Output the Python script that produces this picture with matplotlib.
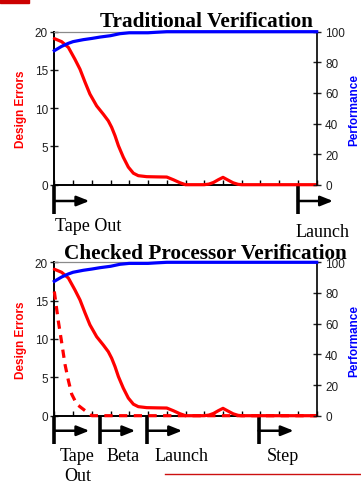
import matplotlib
matplotlib.use("Agg")
import matplotlib.pyplot as plt
from matplotlib.transforms import blended_transform_factory
from matplotlib.patches import Rectangle
from matplotlib.lines import Line2D

# ---- data ----
weeks = [0, 0.39, 0.75, 1.1, 1.37, 1.64, 1.9, 2.26, 2.62, 2.88, 3.06, 3.24, 3.42, 3.68,
         3.95, 4.22, 4.48, 4.93, 5.5, 6.0, 6.35, 6.7, 7.0, 8.0, 8.25, 8.5, 8.75, 9.0,
         9.27, 9.54, 9.8, 10, 11, 12, 13, 14]
design_errors = [19.1, 18.7, 17.95, 16.4, 15.1, 13.4, 11.85, 10.3, 9.2, 8.35, 7.5, 6.4, 5.1, 3.6,
                 2.3, 1.5, 1.18, 1.05, 1.02, 1.0, 0.65, 0.26, 0.0, 0.0, 0.08, 0.3, 0.65, 0.96,
                 0.6, 0.25, 0.05, 0.0, 0.0, 0.0, 0.0, 0.0]

perf_weeks = [0, 0.39, 0.75, 1.0, 1.55, 2.0, 2.44, 3.0, 3.5, 4.0, 4.5, 5.0, 5.4, 6, 7, 8, 9, 10, 11, 12, 13, 14]
performance = [87.6, 90.4, 92.4, 93.5, 94.8, 95.6, 96.5, 97.4, 98.7, 99.3, 99.3, 99.3, 99.6, 100,
               100, 100, 100, 100, 100, 100, 100, 100]

checked_weeks = [0, 0.21, 0.39, 0.57, 0.75, 0.93, 1.2, 1.46, 2, 3, 4, 5, 6, 7, 8, 9, 10, 11, 12, 13, 14]
checked_errors = [16.2, 12.4, 9.6, 6.7, 4.6, 2.8, 1.5, 1.0, 0.0, 0, 0, 0, 0, 0, 0, 0, 0, 0, 0, 0, 0]

left_ticks = [0, 5, 10, 15, 20]
right_ticks = [0, 20, 40, 60, 80, 100]

titles = ["Traditional Verification", "Checked Processor Verification"]

# milestones: positions along the week axis and their captions
traditional_milestones = [0, 13]
traditional_labels = ["Tape Out", "Launch"]
checked_milestones = [0, 2.45, 4.95, 10.9]
checked_labels = ["Tape\nOut", "Beta", "Launch", "Step"]

RED = "#ff0000"
BLUE = "#0000ff"
SANS = "Liberation Sans"
SERIF = "Liberation Serif"

W, H = 361, 485
fig = plt.figure(figsize=(W / 100, H / 100), dpi=100)


def px_axes(left, top, right, bottom):
    return fig.add_axes([left / W, 1 - bottom / H, (right - left) / W, (bottom - top) / H])


def build_panel(top, bottom, dashed):
    ax = px_axes(54.3, top, 316.7, bottom)
    ax.set_xlim(0, 14)
    ax.set_ylim(0, 20)
    ax.set_xticks(range(15))
    ax.set_xticklabels([])
    ax.set_yticks(left_ticks)
    ax.tick_params(axis="y", direction="inout", length=6, width=1, pad=1.5,
                   labelsize=8.5, labelfontfamily=SANS, colors="#202020")
    ax.tick_params(axis="x", direction="in", length=3.5, width=1)
    for s in ["left", "bottom"]:
        ax.spines[s].set_linewidth(1.4)
    ax.spines["right"].set_visible(False)
    ax.spines["top"].set_color("#8a8a8a")
    ax.spines["top"].set_linewidth(0.9)
    ax.patch.set_alpha(0)

    ax.plot(weeks, design_errors, color=RED, lw=2.3, clip_on=False,
            solid_joinstyle="round", solid_capstyle="round", zorder=3)
    if dashed:
        ax.plot(checked_weeks, checked_errors, color=RED, lw=2.3, clip_on=False,
                dashes=(2.6, 2.0), zorder=3)

    ax2 = ax.twinx()
    ax2.set_ylim(0, 100)
    ax2.set_yticks(right_ticks)
    ax2.tick_params(axis="y", direction="inout", length=6, width=1, pad=3,
                    labelsize=8.5, labelfontfamily=SANS, colors="#202020")
    for s in ["left", "bottom", "top"]:
        ax2.spines[s].set_visible(False)
    ax2.spines["right"].set_linewidth(1.2)
    ax2.plot(perf_weeks, performance, color=BLUE, lw=2.3, clip_on=False,
             solid_joinstyle="round", zorder=3)

    mid = (top + bottom) / 2
    fig.text(21 / W, 1 - mid / H, "Design Errors", rotation=90, ha="center", va="center",
             color=RED, fontsize=8.5, fontweight="bold", family=SANS)
    fig.text(354.5 / W, 1 - (mid + 1) / H, "Performance", rotation=90, ha="center", va="center",
             color=BLUE, fontsize=8.5, fontweight="bold", family=SANS)
    return ax


def milestones(ax, positions, line_end, arrow_y, span=1.87):
    trans = blended_transform_factory(ax.transData, ax.transAxes)
    for x in positions:
        ax.add_line(Line2D([x, x], [0, line_end], transform=trans, color="black",
                           lw=2.6, clip_on=False, solid_capstyle="butt"))
        ax.annotate("", xy=(x + span, arrow_y), xytext=(x, arrow_y),
                    xycoords=trans, textcoords=trans, annotation_clip=False,
                    arrowprops=dict(arrowstyle="-|>,head_length=0.75,head_width=0.3",
                                    lw=1.8, color="black", shrinkA=0, shrinkB=0))
    return trans


# ---- top panel ----
ax_top = build_panel(32.7, 185.7, dashed=False)
tr = milestones(ax_top, traditional_milestones, -0.19, -0.1065)
ax_top.text(0.04, -0.294, traditional_labels[0], transform=tr, ha="left", va="baseline",
            fontsize=13, family=SERIF)
ax_top.text(12.85, -0.333, traditional_labels[1], transform=tr, ha="left", va="baseline",
            fontsize=13, family=SERIF)
fig.text(206 / W, 1 - 26.7 / H, titles[0], ha="center", va="baseline",
         fontsize=15.3, fontweight="bold", family=SERIF)

# ---- bottom panel ----
ax_bot = build_panel(263.3, 416.7, dashed=True)
tb = milestones(ax_bot, checked_milestones, -0.185, -0.098)
label_x = [0.30, 2.76, 5.37, 11.33]
for x, lab in zip(label_x, checked_labels):
    first, *rest = lab.split("\n")
    ax_bot.text(x, -0.287, first, transform=tb, ha="left", va="baseline",
                fontsize=13, family=SERIF)
    for line in rest:
        ax_bot.text(x + 0.23, -0.417, line, transform=tb, ha="left", va="baseline",
                    fontsize=13, family=SERIF)
fig.text(205 / W, 1 - 259.3 / H, titles[1], ha="center", va="baseline",
         fontsize=15.3, fontweight="bold", family=SERIF)

# slide decorations
fig.patches.append(Rectangle((0, 1 - 4 / H), 29 / W, 4 / H, transform=fig.transFigure,
                             color="#cc0000", zorder=0))
fig.lines.append(Line2D([165 / W, 1], [1 - 475 / H, 1 - 475 / H], transform=fig.transFigure,
                        color="#cc1010", lw=1))

fig.savefig("out.png", dpi=100)
